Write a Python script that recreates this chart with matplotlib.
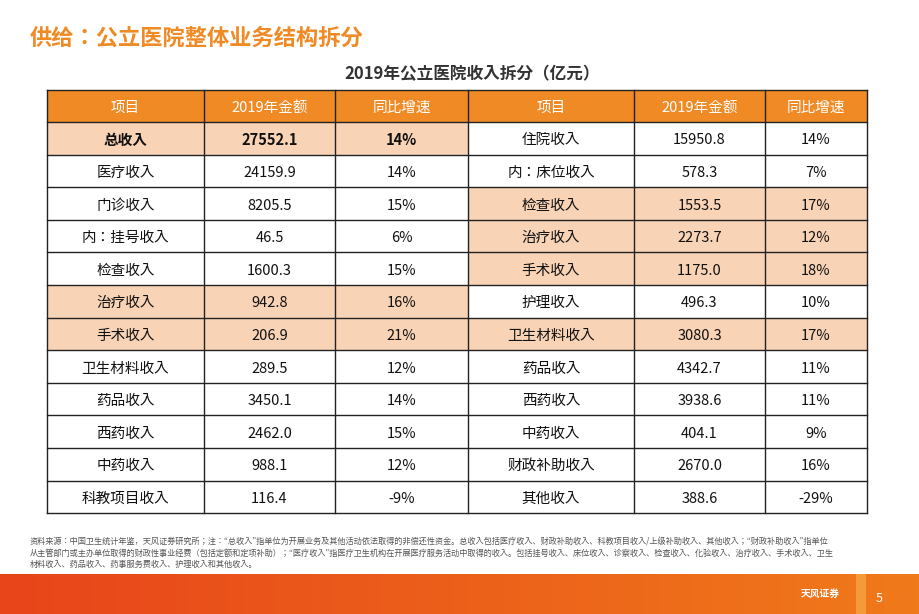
import matplotlib
matplotlib.use("Agg")
import matplotlib.pyplot as plt
from matplotlib.patches import Rectangle
import numpy as np

plt.rcParams["font.family"] = ["Noto Sans CJK JP", "DejaVu Sans"]

HEADER = ["项目", "2019年金额", "同比增速"]
L_NAME = ["总收入", "医疗收入", "门诊收入", "内：挂号收入", "检查收入", "治疗收入", "手术收入",
          "卫生材料收入", "药品收入", "西药收入", "中药收入", "科教项目收入"]
L_AMT = ["27552.1", "24159.9", "8205.5", "46.5", "1600.3", "942.8", "206.9",
         "289.5", "3450.1", "2462.0", "988.1", "116.4"]
L_YOY = ["14%", "14%", "15%", "6%", "15%", "16%", "21%", "12%", "14%", "15%", "12%", "-9%"]
L_HL = [1, 0, 0, 0, 0, 1, 1, 0, 0, 0, 0, 0]
R_NAME = ["住院收入", "内：床位收入", "检查收入", "治疗收入", "手术收入", "护理收入", "卫生材料收入",
          "药品收入", "西药收入", "中药收入", "财政补助收入", "其他收入"]
R_AMT = ["15950.8", "578.3", "1553.5", "2273.7", "1175.0", "496.3", "3080.3",
         "4342.7", "3938.6", "404.1", "2670.0", "388.6"]
R_YOY = ["14%", "7%", "17%", "12%", "18%", "10%", "17%", "11%", "11%", "9%", "16%", "-29%"]
R_HL = [0, 0, 1, 1, 1, 0, 1, 0, 0, 0, 0, 0]

ORANGE = "#F08A24"
PEACH = "#F9D3B5"
COLX = [47, 204, 335, 468, 634, 765, 867]
TOP, HH, RH = 90, 32, 32.6
DY = 2  # CJK glyphs sit high with va=center

fig = plt.figure(figsize=(9.2, 6.14), dpi=100)
ax = fig.add_axes([0, 0, 1, 1])
ax.set_xlim(0, 920); ax.set_ylim(614, 0); ax.axis("off")

ax.text(30, 38, "供给：公立医院整体业务结构拆分", fontsize=16, fontweight="bold",
        color=ORANGE, va="center")
ax.text(472, 74, "2019年公立医院收入拆分（亿元）", fontsize=12, fontweight="bold",
        color="#333333", va="center", ha="center")

# header
ax.add_patch(Rectangle((COLX[0], TOP), COLX[-1] - COLX[0], HH, fc=ORANGE, ec="none"))
for j in range(6):
    ax.text((COLX[j] + COLX[j + 1]) / 2, TOP + HH / 2 + DY, HEADER[j % 3], color="white",
            fontsize=10.5, ha="center", va="center")

for side, (names, amts, yoys, hls) in enumerate([(L_NAME, L_AMT, L_YOY, L_HL),
                                                 (R_NAME, R_AMT, R_YOY, R_HL)]):
    x0, x1 = COLX[3 * side], COLX[3 * side + 3]
    for i in range(len(names)):
        y = TOP + HH + i * RH
        if hls[i]:
            ax.add_patch(Rectangle((x0, y), x1 - x0, RH, fc=PEACH, ec="none"))
        bold = "bold" if (side == 0 and i == 0) else "normal"
        for k, t in enumerate([names[i], amts[i], yoys[i]]):
            cx = (COLX[3 * side + k] + COLX[3 * side + k + 1]) / 2
            ax.text(cx, y + RH / 2 + DY, t, fontsize=10.5, ha="center", va="center",
                    color="#111111", fontweight=bold)

bottom = TOP + HH + len(L_NAME) * RH
for x in COLX:
    ax.plot([x, x], [TOP, bottom], color="#222222", lw=1)
for i in range(len(L_NAME) + 2):
    y = TOP if i == 0 else TOP + HH + (i - 1) * RH
    ax.plot([COLX[0], COLX[-1]], [y, y], color="#222222", lw=1)

note = ("资料来源：中国卫生统计年鉴，天风证券研究所；注：“总收入”指单位为开展业务及其他活动依法取得的非偿还性资金。总收入包括医疗收入、财政补助收入、科教项目收入/上级补助收入、其他收入；“财政补助收入”指单位\n"
        "从主管部门或主办单位取得的财政性事业经费（包括定额和定项补助）；“医疗收入”指医疗卫生机构在开展医疗服务活动中取得的收入。包括挂号收入、床位收入、诊察收入、检查收入、化验收入、治疗收入、手术收入、卫生\n"
        "材料收入、药品收入、药事服务费收入、护理收入和其他收入。")
ax.text(30, 553, note, fontsize=5.9, color="#555555", va="center", linespacing=1.35)

# footer band
grad = np.linspace(0, 1, 256).reshape(1, -1)
cmap = matplotlib.colors.LinearSegmentedColormap.from_list("f", ["#E8451A", "#F07A1A"])
ax.imshow(grad, extent=[0, 920, 614, 574], cmap=cmap, aspect="auto", zorder=0)
ax.set_xlim(0, 920); ax.set_ylim(614, 0)
ax.add_patch(Rectangle((856, 574), 10, 40, fc="#F59A3A", ec="none"))
ax.text(820, 594, "天风证券", color="white", fontsize=7, fontweight="bold", va="center", ha="center")
ax.text(876, 598, "5", color="white", fontsize=9, va="center")

fig.savefig("out.png", dpi=100)
